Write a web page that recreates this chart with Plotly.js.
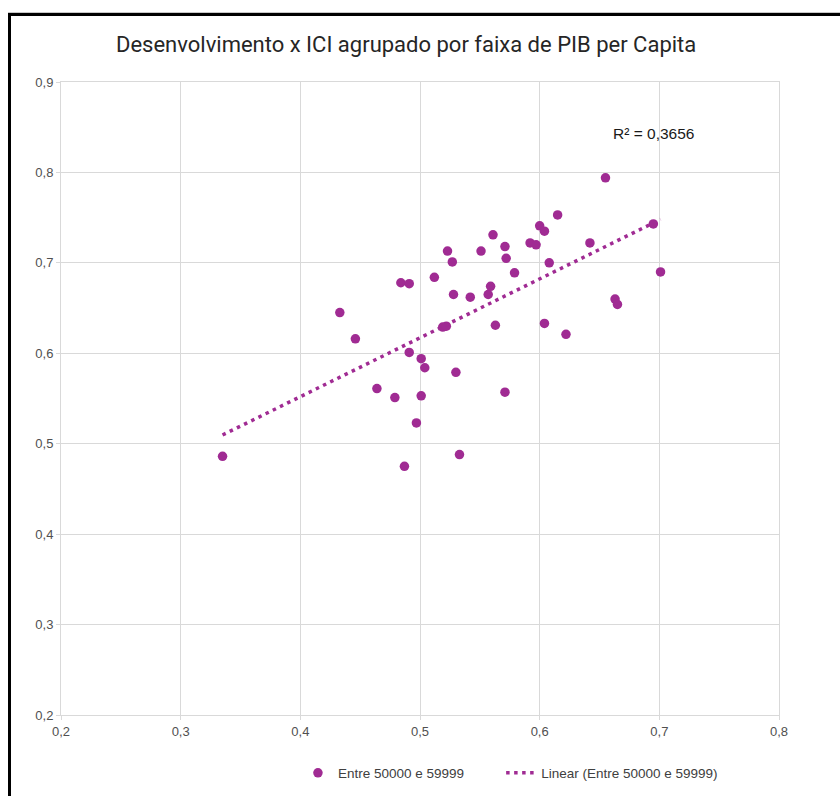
<!DOCTYPE html>
<html>
<head>
<meta charset="utf-8">
<script src="https://cdn.plot.ly/plotly-3.0.1.min.js"></script>
<style>
  html, body { margin: 0; padding: 0; background: #fff; }
  #wrap { position: relative; width: 840px; height: 796px; overflow: hidden; }
  #chart { position: absolute; left: 0; top: 0; width: 840px; height: 796px; }
  #frame { position: absolute; left: 8px; top: 13px; width: 900px; height: 900px;
           border-top: 3px solid #000; border-left: 3px solid #000; box-shadow: 0 -1px 0 #c8c8c8; pointer-events: none; }
</style>
</head>
<body>
<div id="wrap">
  <div id="chart"></div>
  <div id="frame"></div>
</div>
<script>
// Data
const xValues = [0.335, 0.433, 0.446, 0.464, 0.479, 0.484, 0.491, 0.487, 0.491, 0.497,
                 0.501, 0.501, 0.504, 0.512, 0.519, 0.522, 0.523, 0.527, 0.528, 0.530,
                 0.533, 0.542, 0.551, 0.557, 0.559, 0.561, 0.563, 0.571, 0.572, 0.571,
                 0.579, 0.592, 0.597, 0.600, 0.604, 0.604, 0.608, 0.615, 0.622, 0.642,
                 0.655, 0.663, 0.665, 0.695, 0.701];
const yValues = [0.486, 0.645, 0.616, 0.561, 0.551, 0.678, 0.677, 0.475, 0.601, 0.523,
                 0.594, 0.553, 0.584, 0.684, 0.629, 0.630, 0.713, 0.701, 0.665, 0.579,
                 0.488, 0.662, 0.713, 0.665, 0.674, 0.731, 0.631, 0.718, 0.705, 0.557,
                 0.689, 0.722, 0.720, 0.741, 0.735, 0.633, 0.700, 0.753, 0.621, 0.722,
                 0.794, 0.660, 0.654, 0.743, 0.690];
const seriesName = "Entre 50000 e 59999";
const trendName = "Linear (Entre 50000 e 59999)";
const r2Label = "R\u00B2 = 0,3656";
const titleText = "Desenvolvimento x ICI agrupado por faixa de PIB per Capita";
const xTicks = [0.2, 0.3, 0.4, 0.5, 0.6, 0.7, 0.8];
const yTicks = [0.2, 0.3, 0.4, 0.5, 0.6, 0.7, 0.8, 0.9];

// Least-squares linear trendline
const n = xValues.length;
const mx = xValues.reduce((a, b) => a + b, 0) / n;
const my = yValues.reduce((a, b) => a + b, 0) / n;
let sxy = 0, sxx = 0;
for (let i = 0; i < n; i++) { sxy += (xValues[i] - mx) * (yValues[i] - my); sxx += (xValues[i] - mx) ** 2; }
const slope = sxy / sxx, intercept = my - slope * mx;
const xMin = Math.min(...xValues), xMax = Math.max(...xValues);
const trendX = [xMin, xMax];
const trendY = trendX.map(x => intercept + slope * x);

const purple = "#A02B93";
const tickFont = { family: "Liberation Sans, Arial, sans-serif", size: 13, color: "#505050" };
const legendFont = { family: "Liberation Sans, Arial, sans-serif", size: 13.5, color: "#404040" };

const traces = [
  { x: xValues, y: yValues, type: "scatter", mode: "markers", name: seriesName,
    marker: { color: purple, size: 9.5 }, legend: "legend" },
  { x: trendX, y: trendY, type: "scatter", mode: "lines", name: trendName,
    line: { color: purple, width: 3.5, dash: "3.5px,4.5px" }, legend: "legend2" }
];

const layout = {
  width: 840, height: 796,
  margin: { l: 61, r: 61, t: 82, b: 81, autoexpand: false },
  paper_bgcolor: "#fff", plot_bgcolor: "#fff",
  separators: ",.",
  showlegend: true,
  title: { text: titleText, xref: "container", x: 0.4835, xanchor: "center",
           yref: "container", y: 1 - 44 / 796, yanchor: "middle",
           font: { family: "Roboto, 'Noto Sans', sans-serif", size: 22, color: "#262626" } },
  xaxis: { range: [0.2, 0.8], tickvals: xTicks, tickformat: ".1f",
           showgrid: true, gridcolor: "#d9d9d9", gridwidth: 1, zeroline: false,
           showline: true, linecolor: "#d9d9d9", mirror: true,
           ticks: "outside", ticklen: 4, tickcolor: "#d9d9d9",
           tickfont: tickFont, fixedrange: true },
  yaxis: { range: [0.2, 0.9], tickvals: yTicks, tickformat: ".1f",
           ticksuffix: "\u00A0\u00A0\u00A0\u00A0",
           showgrid: true, gridcolor: "#d9d9d9", gridwidth: 1, zeroline: false,
           showline: true, linecolor: "#d9d9d9", mirror: true,
           ticks: "outside", ticklen: 4, tickcolor: "#d9d9d9",
           tickfont: tickFont, fixedrange: true },
  legend: { orientation: "h", xref: "paper", x: 0.33, xanchor: "left",
            yref: "container", y: 1 - 773 / 796, yanchor: "middle",
            font: legendFont, bgcolor: "rgba(0,0,0,0)" },
  legend2: { orientation: "h", xref: "paper", x: 0.613, xanchor: "left",
            yref: "container", y: 1 - 773 / 796, yanchor: "middle",
            font: legendFont, bgcolor: "rgba(0,0,0,0)" },
  annotations: [
    { text: r2Label, xref: "paper", yref: "paper", x: 0.766, y: 0.919,
      xanchor: "left", yanchor: "middle", showarrow: false,
      font: { family: "Liberation Sans, Arial, sans-serif", size: 15.5, color: "#1a1a1a" } }
  ]
};

Plotly.newPlot("chart", traces, layout, { displayModeBar: false, staticPlot: true });
</script>
</body>
</html>
